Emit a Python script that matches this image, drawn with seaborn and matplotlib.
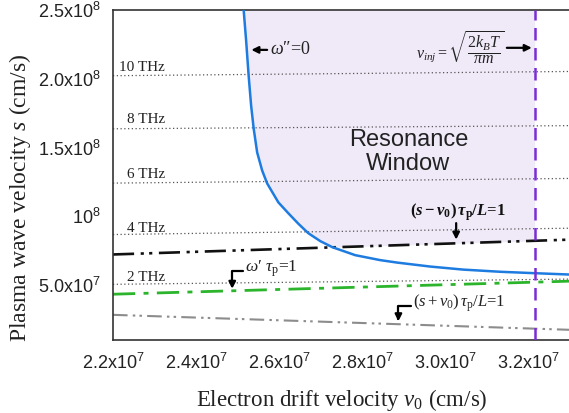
import numpy as np
import pandas as pd
import matplotlib as mpl
mpl.use("Agg")
import matplotlib.pyplot as plt
import seaborn as sns

# ---------------- data ----------------
# omega'' = 0 boundary (blue curve)
res_v0 = [2.5145e7, 2.5205e7, 2.5265e7, 2.5325e7, 2.5386e7, 2.547e7, 2.559e7, 2.571e7,
          2.598e7, 2.622e7, 2.646e7, 2.670e7, 2.699e7, 2.728e7, 2.783e7, 2.843e7,
          2.884e7, 2.964e7, 3.043e7, 3.133e7, 3.2145e7, 3.299e7]
res_s = [2.50e8, 2.275e8, 2.022e8, 1.804e8, 1.638e8, 1.464e8, 1.333e8, 1.239e8,
         1.101e8, 1.022e8, 9.46e7, 8.77e7, 8.19e7, 7.75e7, 7.17e7, 6.81e7,
         6.63e7, 6.34e7, 6.12e7, 5.96e7, 5.86e7, 5.76e7]

# straight lines, end values at v0 = 2.2e7 and 3.3e7
ends_v0 = [2.2e7, 3.3e7]
sminus_s = [7.22e7, 8.30e7]      # (s - v0) tau_p / L = 1
omega_s = [4.33e7, 5.28e7]       # omega' tau_p = 1
splus_s = [2.83e7, 1.74e7]       # (s + v0) tau_p / L = 1

# constant-frequency lines
thz_labels = ["10 THz", "8 THz", "6 THz", "4 THz", "2 THz"]
thz_left = [2.022e8, 1.636e8, 1.241e8, 8.67e7, 5.05e7]
thz_right = [2.053e8, 1.659e8, 1.275e8, 9.13e7, 5.43e7]

v_inj = 3.215e7

xticks = [2.2e7, 2.4e7, 2.6e7, 2.8e7, 3.0e7, 3.2e7]
xticklabels = [r"2.2x10$^7$", r"2.4x10$^7$", r"2.6x10$^7$", r"2.8x10$^7$",
               r"3.0x10$^7$", r"3.2x10$^7$"]
yticks = [5e7, 1e8, 1.5e8, 2.0e8, 2.5e8]
yticklabels = [r"5.0x10$^7$", r"10$^8$", r"1.5x10$^8$", r"2.0x10$^8$", r"2.5x10$^8$"]

# ---------------- style ----------------
sns.set_theme(style="white")
plt.rcParams["font.family"] = ["Liberation Sans", "DejaVu Sans"]
plt.rcParams["mathtext.fontset"] = "custom"
plt.rcParams["mathtext.rm"] = "Liberation Serif"
plt.rcParams["mathtext.it"] = "Liberation Serif:italic"
plt.rcParams["mathtext.bf"] = "Liberation Serif:bold"
HAS_BFIT = "mathtext.bfit" in plt.rcParams
if HAS_BFIT:
    plt.rcParams["mathtext.bfit"] = "Liberation Serif:italic:bold"
plt.rcParams["mathtext.default"] = "regular"

SERIF = ["Liberation Serif", "DejaVu Serif"]

fig = plt.figure(figsize=(5.69, 4.13), dpi=100)
ax = fig.add_axes([113 / 569, 1 - 340 / 413, (570 - 113) / 569, 330 / 413])

xmin, xmax = 2.2e7, 3.3e7
ymin, ymax = 1.0e7, 2.5e8

# ---------------- resonance window fill ----------------
grid = np.union1d(np.linspace(res_v0[0], v_inj, 600), [v_inj])
lower = np.maximum(np.interp(grid, res_v0, res_s), np.interp(grid, ends_v0, sminus_s))
ax.fill_between(grid, lower, ymax, color="#F0EAF8", lw=0, zorder=0)

# ---------------- THz dotted lines ----------------
for lab, yl, yr in zip(thz_labels, thz_left, thz_right):
    sns.lineplot(x=ends_v0, y=[yl, yr], ax=ax, color="#555555", lw=0.9,
                 linestyle=(0, (1, 2)), estimator=None, zorder=1)

# ---------------- lines ----------------
sns.lineplot(x=ends_v0, y=splus_s, ax=ax, color="#8C8C8C", lw=1.5,
             linestyle=(0, (7, 2.5, 1.2, 2, 1.2, 2.5)), estimator=None, zorder=2)
sns.lineplot(x=ends_v0, y=omega_s, ax=ax, color="#2CB52C", lw=2.0,
             linestyle=(0, (8, 3, 1.8, 3)), estimator=None, zorder=2)
sns.lineplot(x=ends_v0, y=sminus_s, ax=ax, color="#111111", lw=1.9,
             linestyle=(0, (8, 2.5, 1.2, 2, 1.2, 2.5)), estimator=None, zorder=2)
sns.lineplot(x=res_v0, y=res_s, ax=ax, color="#1E7BE0", lw=1.8,
             estimator=None, sort=False, zorder=3)
ax.axvline(v_inj, color="#7B2CD6", lw=1.8, linestyle=(0, (5, 3)), zorder=4)

# ---------------- axes ----------------
ax.set_xlim(xmin, xmax)
ax.set_ylim(ymin, ymax)
ax.set_xticks(xticks)
ax.set_xticklabels(xticklabels)
ax.set_yticks(yticks)
ax.set_yticklabels(yticklabels)
ax.tick_params(axis="both", direction="in", length=4, width=1, labelsize=13,
               colors="#222222", pad=9)
for side in ["left", "bottom", "top"]:
    ax.spines[side].set_color("#333333")
    ax.spines[side].set_linewidth(1.2)
ax.spines["right"].set_visible(False)

ax.set_xlabel(r"Electron drift velocity $\mathit{v}_0$ (cm/s)", fontsize=16.5,
              family=SERIF, color="#222222")
ax.set_ylabel(r"Plasma wave velocity $\mathit{s}$ (cm/s)", fontsize=17,
              family=SERIF, color="#222222")
ax.xaxis.set_label_coords(0.5, -0.142)
ax.yaxis.set_label_coords(-0.174, 0.43)

# ---------------- annotations ----------------
thz_x = 2.325e7
thz_y = [2.08e8, 1.703e8, 1.304e8, 9.13e7, 5.58e7]
for lab, yy in zip(thz_labels, thz_y):
    ax.text(thz_x, yy, lab, ha="right", va="center", fontsize=11, family=SERIF,
            color="#222222")

arrow_kw = dict(arrowstyle="-|>", color="black", lw=1.6, mutation_scale=10,
                shrinkA=0, shrinkB=0)

# omega'' = 0
ax.annotate("", xy=(2.533e7, 2.21e8), xytext=(2.571e7, 2.21e8), arrowprops=arrow_kw)
ax.text(2.578e7, 2.21e8, "$\\mathit{\\omega}$\u2033=0", ha="left", va="center",
        fontsize=13, family=SERIF, color="#222222")

# v_inj
ax.annotate("", xy=(3.208e7, 2.225e8), xytext=(3.148e7, 2.225e8), arrowprops=arrow_kw)
ax.text(3.143e7, 2.225e8,
        r"$\mathit{v}_{\mathit{inj}}=\sqrt{\dfrac{2\mathit{k}_{\mathit{B}}\mathit{T}}{\mathit{\pi m}}}$",
        ha="right", va="center", fontsize=11.5, family=SERIF, color="#222222")

# Resonance window
ax.text(2.911e7, 1.464e8, "Resonance\nWindow", ha="center", va="center",
        fontsize=17, color="#222222", linespacing=1.12)

# (s - v0) tau_p / L = 1  (bold)
if HAS_BFIT:
    lab_minus = (r"$(\mathbfit{s}-\mathbfit{v}_{0})\,\mathbfit{\tau}_{p}/\mathbfit{L}$=1")
else:
    lab_minus = (r"$(\mathbf{s}-\mathbf{v}_{0})\,\mathbf{\tau}_{p}/\mathbf{L}$=1")
ax.text(2.916e7, 1.029e8, lab_minus, ha="left", va="center", fontsize=12,
        family=SERIF, fontweight="bold", color="#111111")
ax.annotate("", xy=(3.026e7, 8.30e7), xytext=(3.026e7, 9.5e7), arrowprops=arrow_kw)

# omega' tau_p = 1
ax.text(2.518e7, 6.16e7, "$\\mathit{\\omega}$\u2032 $\\mathit{\\tau}_{p}$=1", ha="left",
        va="center", fontsize=12.5, family=SERIF, color="#222222")
ax.annotate("", xy=(2.487e7, 4.72e7), xytext=(2.513e7, 6.01e7),
            arrowprops=dict(arrow_kw, connectionstyle="angle,angleA=0,angleB=90,rad=0"))

# (s + v0) tau_p / L = 1
ax.text(2.923e7, 3.70e7, r"$(\mathit{s}+\mathit{v}_{0})\,\mathit{\tau}_{p}/\mathit{L}$=1",
        ha="left", va="center", fontsize=12, family=SERIF, color="#222222")
ax.annotate("", xy=(2.887e7, 2.36e7), xytext=(2.918e7, 3.48e7),
            arrowprops=dict(arrow_kw, connectionstyle="angle,angleA=0,angleB=90,rad=0"))

fig.savefig("out.png", dpi=100)
